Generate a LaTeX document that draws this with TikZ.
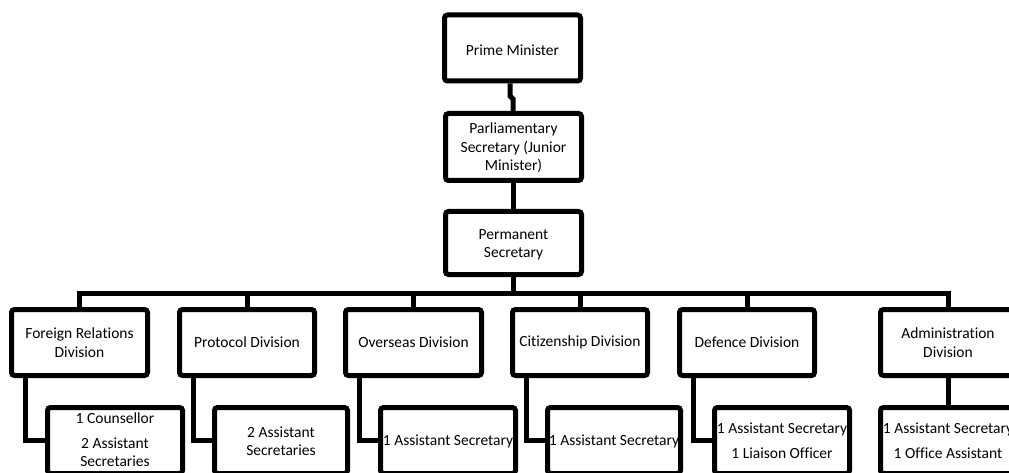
\documentclass[tikz,border=0pt]{standalone}
\usepackage{fontspec}
\setmainfont[Ligatures={NoCommon,NoRare}]{Carlito}
\newcommand{\nl}{\kern0pt\relax}
\begin{document}
\begin{tikzpicture}[x=1pt,y=-1pt,
  box/.style={draw, line width=5pt, rounded corners=3pt, inner sep=0pt, minimum width=136pt, minimum height=66pt},
  txt/.style={align=center, inner sep=0pt, font=\fontsize{15.5}{18.5}\selectfont},
  conn/.style={line width=5pt}]
\useasboundingbox (0,0) rectangle (1009,473);
\clip (0,0) rectangle (1009,473);
% top chain
\node[box] (pm) at (512.5,48) {};
\node[txt] (pmt) at (512.5,50) {Prime Minister};
\node[box, minimum height=67pt] (parl) at (513.5,147) {};
\node[txt] (parlt) at (513.5,148) {Parliamentary\\Secretary (Junior\\Minister)};
\node[box, minimum height=63pt] (perm) at (513.5,243) {};
\node[txt] (permt) at (513.5,245) {Permanent\\Secretary};
% divisions
\node[box] (fr) at (79.5,342.5) {};
\node[txt] (frt) at (79.5,342.5) {Foreign Relations\\Division};
\node[box, minimum width=135pt] (pro) at (247,342.5) {};
\node[txt] (prot) at (247,342.5) {Protocol Division};
\node[box] (ove) at (413.5,342.5) {};
\node[txt] (ovet) at (413.5,342.5) {Overseas Division};
\node[box, minimum width=135pt] (cit) at (580,342.5) {};
\node[txt] (citt) at (580,342.5) {Cit\nl izenship Division};
\node[box, minimum width=135pt] (def) at (747,342.5) {};
\node[txt] (deft) at (747,342.5) {Defence Division};
\node[box, minimum width=135pt] (adm) at (948,342.5) {};
\node[txt] (admt) at (948,342.5) {Administrat\nl ion\\Division};
% sub boxes
\node[box, minimum width=135pt] (frs) at (115,440.5) {};
\node[txt] (frst) at (115,439.5) {1 Counsellor\\[6.5pt]2 Assistant\\Secretaries};
\node[box, minimum width=133pt] (pros) at (281,440.5) {};
\node[txt] (prost) at (281,441) {2 Assistant\\Secretaries};
\node[box, minimum width=135pt] (oves) at (448,440.5) {};
\node[txt] (ovest) at (448,441) {1 Assistant Secretary};
\node[box, minimum width=133pt] (cits) at (614,440.5) {};
\node[txt] (citst) at (614,441) {1 Assistant Secretary};
\node[box, minimum width=135pt] (defs) at (782,440.5) {};
\node[txt] (defst) at (782,440.5) {1 Assistant Secretary\\[6pt]1 Liaison Officer};
\node[box, minimum width=135pt] (adms) at (948,440.5) {};
\node[txt] (admst) at (948,440.5) {1 Assistant Secretary\\[6pt]1 Of\nl f\nl ice Assistant};
% connectors
\coordinate (bus) at (0,293);
\draw[conn] (pm.south -| 510,0) -- (510,96) -- (513,99) -- (parl.north -| 513,0);
\draw[conn] (parl.south) -- (perm.north);
\draw[conn] (perm.south) -- (perm.south |- bus);
\draw[conn] (fr.north) -- (fr.north |- bus) -- (adm.north |- bus) -- (adm.north);
\foreach \n in {pro,ove,cit,def} {
  \draw[conn] (\n.north) -- (\n.north |- bus);
}
\foreach \a/\b in {fr/frs,pro/pros,ove/oves,cit/cits,def/defs} {
  \draw[conn] ([xshift=16pt]\a.south west) |- (\b.west);
}
\draw[conn] (adm.south) -- (adms.north);
\end{tikzpicture}
\end{document}
